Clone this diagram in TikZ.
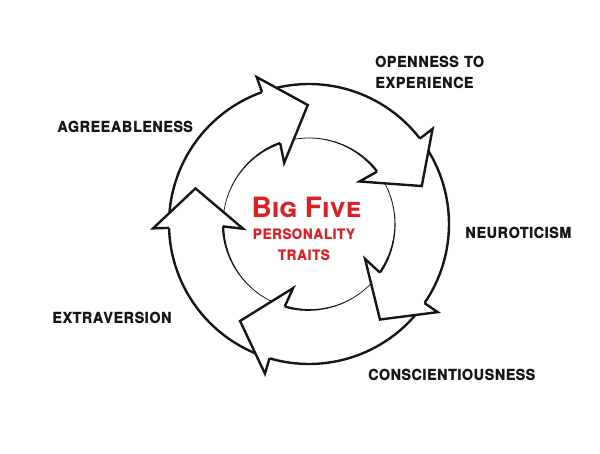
\documentclass[tikz,border=0pt]{standalone}
\usepackage{fontspec}
\setmainfont{TeX Gyre Heros}
\usetikzlibrary{calc}
\definecolor{ink}{RGB}{22,22,22}
\definecolor{redink}{RGB}{222,32,36}
\newcommand{\tallx}[1]{\scalebox{1}[1.15]{#1}}
\newcommand{\tallc}[1]{\scalebox{1}[1.15]{#1}}
\tikzset{
  lab/.style={font=\bfseries\scshape\fontsize{18}{19}\selectfont, text=ink, inner sep=0pt, anchor=west, align=left},
  ctr/.style={font=\bfseries\scshape\fontsize{17}{19}\selectfont, text=redink, inner sep=0pt},
  big/.style={font=\bfseries\scshape\fontsize{28}{30}\selectfont, text=redink, inner sep=0pt},
  outline/.style={draw=ink, line width=2.4pt, line join=miter},
}
\begin{document}
\begin{tikzpicture}[x=1pt,y=1pt]
\useasboundingbox (0,0) rectangle (600,453);
\fill[white] (0,0) rectangle (600,453);
\coordinate (C) at (309,229);
% ring edges (shafts)
\foreach \k in {0,...,4} {
  \pgfmathsetmacro{\tb}{109.6-72*\k}
  \pgfmathsetmacro{\sa}{\tb-3}
  \pgfmathsetmacro{\ea}{\tb-72}
  \draw[ink, line width=2.4pt] ($(C)+(\sa:140)$) arc[start angle=\sa, end angle=\ea, radius=140];
  \foreach \j in {0,...,11} {
    \pgfmathsetmacro{\a}{\tb-3-\j*69/12}
    \pgfmathsetmacro{\b}{\a-69/12}
    \pgfmathsetmacro{\w}{0.7+1.6*(\j/11)^2}
    \draw[ink, line width=\w pt, line cap=round] ($(C)+(\a:86)$) arc[start angle=\a, end angle=\b, radius=86];
  }
}
% arrow heads
\foreach \k in {0,...,4} {
  \pgfmathsetmacro{\tb}{109.6-72*\k}
  \pgfmathsetmacro{\tt}{\tb-19}
  \pgfmathsetmacro{\ti}{\tb+2.5}
  \fill[white] ($(C)+(\tb:140)$) -- ($(C)+(\tb:156)$) -- ($(C)+(\tt:119)$) -- ($(C)+(\ti:66)$) -- ($(C)+(\tb:86)$) -- cycle;
  \draw[outline] ($(C)+(\tb:140)$) -- ($(C)+(\tb:156)$) -- ($(C)+(\tt:119)$) -- ($(C)+(\ti:66)$) -- ($(C)+(\tb:86)$);
}
% labels
\node[lab] (open) at (375,380.5) {\tallx{openness to}\\[2pt]\tallx{experience}};
\node[lab] (agree) at (57,326) {\tallx{agreeableness}};
\node[lab] (neuro) at (465,220) {\tallx{neuroticism}};
\node[lab] (consc) at (368,78) {\tallx{conscientiousness}};
\node[lab] (extra) at (52,135) {\tallx{extraversion}};
\node[big] (bigfive) at (306.5,246) {Big Five};
\node[ctr] (pers) at (304,218.5) {\tallc{personality}};
\node[ctr] (traits) at (304,197.5) {\tallc{traits}};
\end{tikzpicture}
\end{document}
